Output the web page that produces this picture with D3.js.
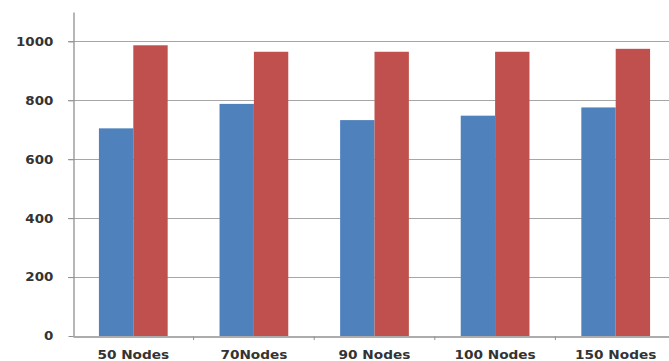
<!DOCTYPE html>
<html>
<head>
<meta charset="utf-8">
<script src="https://cdn.jsdelivr.net/npm/d3@7/dist/d3.min.js"></script>
<style>
  html, body { margin: 0; padding: 0; background: #fff; }
  svg { display: block; }
  text { font-family: "DejaVu Sans", Verdana, sans-serif; font-weight: bold; fill: #333; }
</style>
</head>
<body>
<svg id="chart" width="669" height="361"></svg>
<script>
const categories = ["50 Nodes", "70Nodes", "90 Nodes", "100 Nodes", "150 Nodes"];
const seriesA = [705, 788, 733, 748, 776];
const seriesB = [987, 965, 965, 965, 975];
const yTicks = [0, 200, 400, 600, 800, 1000];

const svg = d3.select("#chart");
const margin = { left: 73, right: -7, top: 12, bottom: 25 };
const W = 669, H = 361;

const x = d3.scaleBand()
  .domain(categories)
  .range([margin.left, W - margin.right])
  .paddingInner(0)
  .paddingOuter(0);

const y = d3.scaleLinear()
  .domain([0, 1100])
  .range([H - margin.bottom, margin.top]);

const groupW = x.bandwidth() * 0.57;
const xs = d3.scaleBand().domain(["a", "b"]).range([0, groupW]);

// horizontal gridlines
svg.append("g")
  .selectAll("line")
  .data(yTicks.filter(d => d > 0))
  .join("line")
  .attr("x1", margin.left - 5)
  .attr("x2", W)
  .attr("y1", d => Math.round(y(d)) + 0.5)
  .attr("y2", d => Math.round(y(d)) + 0.5)
  .attr("stroke", "#a6a6a6")
  .attr("stroke-width", 1.2);

// bars
const groups = svg.append("g")
  .selectAll("g")
  .data(categories.map((c, i) => ({ c, a: seriesA[i], b: seriesB[i] })))
  .join("g")
  .attr("transform", d => `translate(${x(d.c) + (x.bandwidth() - groupW) / 2},0)`);

groups.append("rect")
  .attr("x", xs("a"))
  .attr("width", xs.bandwidth())
  .attr("y", d => y(d.a))
  .attr("height", d => y(0) - y(d.a))
  .attr("fill", "#4f81bd");

groups.append("rect")
  .attr("x", xs("b"))
  .attr("width", xs.bandwidth())
  .attr("y", d => y(d.b))
  .attr("height", d => y(0) - y(d.b))
  .attr("fill", "#c0504d");

// y axis
const yAxis = svg.append("g")
  .attr("transform", `translate(${margin.left + 0.5},0)`)
  .call(d3.axisLeft(y).tickValues(yTicks).tickFormat(d3.format("d"))
    .tickSize(5).tickPadding(13).tickSizeOuter(0));
yAxis.select(".domain").attr("stroke", "#909090").attr("stroke-width", 1.3);
yAxis.selectAll(".tick line").attr("stroke", "#909090");
yAxis.selectAll("text")
  .attr("font-size", 12)
  .attr("transform", "scale(1.12,1)")
  .attr("fill", "#333");

// x axis
const xAxis = svg.append("g")
  .attr("transform", `translate(0,${Math.round(y(0)) + 0.5})`)
  .call(d3.axisBottom(x).tickSize(0).tickPadding(14));
xAxis.select(".domain").attr("stroke", "#909090").attr("stroke-width", 1.3);
xAxis.selectAll("text")
  .attr("font-size", 12)
  .attr("transform", "scale(1.14,1)")
  .attr("fill", "#333");

// small tick marks between categories
svg.append("g")
  .selectAll("line")
  .data(categories.slice(1))
  .join("line")
  .attr("x1", d => x(d))
  .attr("x2", d => x(d))
  .attr("y1", Math.round(y(0)) + 0.5)
  .attr("y2", Math.round(y(0)) + 4)
  .attr("stroke", "#909090");
</script>
</body>
</html>
